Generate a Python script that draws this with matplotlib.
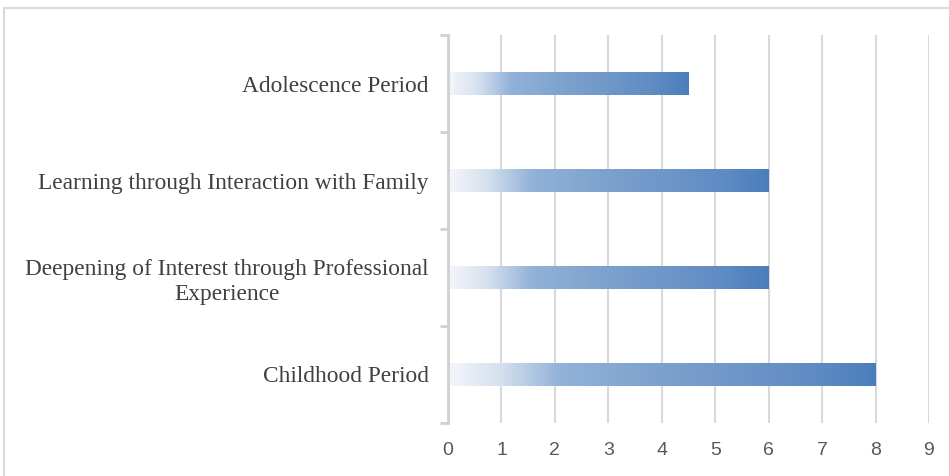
import numpy as np
import matplotlib.pyplot as plt
from matplotlib.colors import LinearSegmentedColormap
from matplotlib.patches import Rectangle

# data (bottom to top)
categories = [
    "Childhood Period",
    "Deepening of Interest through Professional\nExperience",
    "Learning through Interaction with Family",
    "Adolescence Period",
]
values = [8, 6, 6, 4.5]
xticks = list(range(0, 10))

# gradient fill like the office chart
grad = LinearSegmentedColormap.from_list(
    "bar_grad",
    [(0.0, "#f5f6fa"), (0.12, "#d6e1ef"), (0.26, "#92b2d8"),
     (0.50, "#7ca1cd"), (0.85, "#608cc4"), (1.0, "#4a7ebb")],
)

fig = plt.figure(figsize=(9.49, 4.76), dpi=100)
ax = fig.add_axes([448 / 949, 1 - 423 / 476, 481 / 949, 388 / 476])

bar_h = 0.23
ramp = np.linspace(0, 1, 256).reshape(1, -1)
for i, v in enumerate(values):
    ax.imshow(ramp, cmap=grad, aspect="auto", interpolation="bilinear",
              extent=[0, v, i - bar_h / 2, i + bar_h / 2], zorder=3)

ax.set_xlim(0, 9)
ax.set_ylim(-0.5, len(values) - 0.5)
ax.set_xticks(xticks)
ax.set_xticklabels([str(t) for t in xticks], fontsize=14,
                   color="#595959", family="Liberation Sans")
ax.set_yticks(range(len(categories)))
ax.set_yticklabels(categories, fontsize=16.8, color="#404040",
                   family="Liberation Serif", linespacing=1.25,
                   multialignment="center")
ax.set_yticks(np.arange(-0.5, len(values), 1.0), minor=True)

ax.tick_params(axis="x", length=0, pad=14)
ax.tick_params(axis="y", which="major", length=0, pad=14)
ax.tick_params(axis="y", which="minor", length=6, width=2, color="#d0d0d0")

ax.grid(axis="x", color="#d9d9d9", linewidth=1.5, zorder=0)
ax.set_axisbelow(True)
for side in ["top", "right", "bottom"]:
    ax.spines[side].set_visible(False)
ax.spines["left"].set_color("#d0d0d0")
ax.spines["left"].set_linewidth(2)
ax.spines["left"].set_zorder(4)

# chart area border
fig.patches.append(Rectangle((4 / 949, -0.05), 1.1, 1 - 8 / 476 + 0.05,
                             transform=fig.transFigure, fill=False,
                             edgecolor="#d9d9d9", linewidth=1.5))

fig.savefig("out.png", dpi=100)
